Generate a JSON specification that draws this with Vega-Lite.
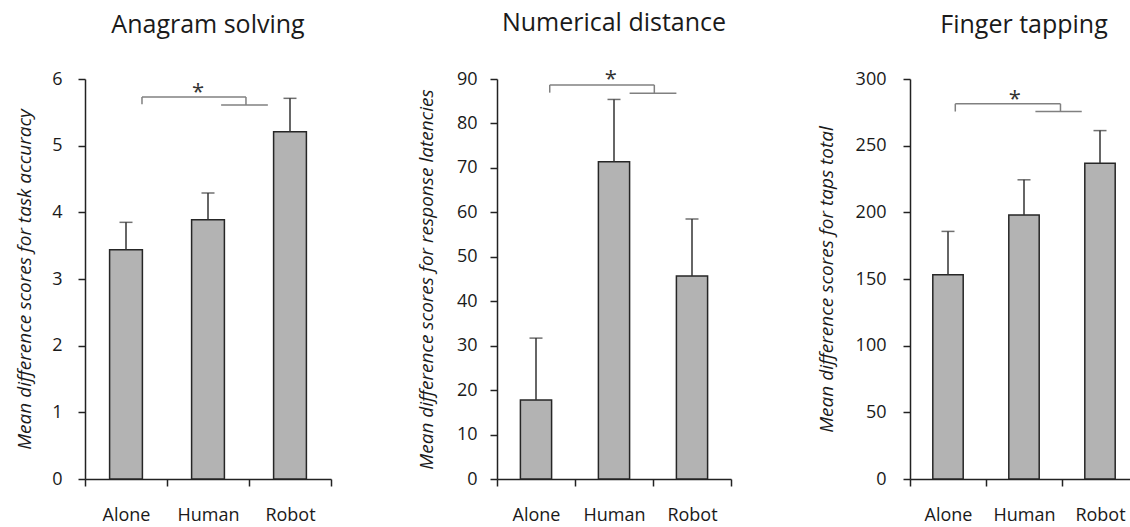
{
  "$schema": "https://vega.github.io/schema/vega-lite/v6.json",
  "padding": {"left": 15, "top": 11, "right": 0, "bottom": 0},
  "datasets": {
    "anagram": [
      {"condition": "Alone", "mean": 3.44, "upper": 3.85},
      {"condition": "Human", "mean": 3.89, "upper": 4.29},
      {"condition": "Robot", "mean": 5.21, "upper": 5.71}
    ],
    "numerical": [
      {"condition": "Alone", "mean": 17.8, "upper": 31.7},
      {"condition": "Human", "mean": 71.4, "upper": 85.4},
      {"condition": "Robot", "mean": 45.7, "upper": 58.5}
    ],
    "tapping": [
      {"condition": "Alone", "mean": 153.2, "upper": 185.7},
      {"condition": "Human", "mean": 198.0, "upper": 224.4},
      {"condition": "Robot", "mean": 236.9, "upper": 261.3}
    ],
    "anagram_bracket": [
      {"x": 0.695, "x2": 0.695, "y": 5.62, "y2": 5.73},
      {"x": 0.695, "x2": 1.963, "y": 5.73, "y2": 5.73},
      {"x": 1.963, "x2": 1.963, "y": 5.61, "y2": 5.73},
      {"x": 1.66, "x2": 2.23, "y": 5.61, "y2": 5.61}
    ],
    "numerical_bracket": [
      {"x": 0.676, "x2": 0.676, "y": 86.93, "y2": 88.66},
      {"x": 0.676, "x2": 2.017, "y": 88.66, "y2": 88.66},
      {"x": 2.017, "x2": 2.017, "y": 86.8, "y2": 88.66},
      {"x": 1.70, "x2": 2.30, "y": 86.8, "y2": 86.8}
    ],
    "tapping_bracket": [
      {"x": 0.596, "x2": 0.596, "y": 275.6, "y2": 281.4},
      {"x": 0.596, "x2": 1.98, "y": 281.4, "y2": 281.4},
      {"x": 1.98, "x2": 1.98, "y": 275.6, "y2": 281.4},
      {"x": 1.65, "x2": 2.26, "y": 275.6, "y2": 275.6}
    ],
    "anagram_star": [{"x": 1.38, "y": 5.70, "label": "*"}],
    "numerical_star": [{"x": 1.46, "y": 88.4, "label": "*"}],
    "tapping_star": [{"x": 1.38, "y": 279.6, "label": "*"}]
  },
  "hconcat": [
    {
      "title": {"text": "Anagram solving"},
      "width": 246,
      "height": 400,
      "layer": [
        {
          "data": {"name": "anagram"},
          "encoding": {
            "x": {"field": "condition", "type": "nominal", "sort": null,
                  "scale": {"paddingInner": 0, "paddingOuter": 0},
                  "axis": {"title": null, "labelAngle": 0, "tickBand": "extent", "labelPadding": 20}},
            "y": {"field": "mean", "type": "quantitative",
                  "scale": {"domain": [0, 6], "nice": false},
                  "axis": {"title": "Mean difference scores for task accuracy", "values": [0, 1, 2, 3, 4, 5, 6], "format": "d", "labelPadding": 16, "titlePadding": 17}}
          },
          "layer": [
            {"mark": {"type": "bar", "fill": "#b3b3b3", "stroke": "#262626", "strokeWidth": 1.5, "width": {"band": 0.4}}},
            {"mark": {"type": "rule", "color": "#333333", "strokeWidth": 1.5}, "encoding": {"y2": {"field": "upper"}}},
            {"mark": {"type": "tick", "color": "#333333", "thickness": 1.5, "size": 13}, "encoding": {"y": {"field": "upper", "type": "quantitative"}}}
          ]
        },
        {
          "layer": [
            {
              "data": {"name": "anagram_bracket"},
              "mark": {"type": "rule", "color": "#808080", "strokeWidth": 1.5},
              "encoding": {
                "x": {"field": "x", "type": "quantitative", "scale": {"domain": [0, 3], "nice": false, "zero": false}, "axis": null},
                "x2": {"field": "x2"},
                "y": {"field": "y", "type": "quantitative"},
                "y2": {"field": "y2"}
              }
            },
            {
              "data": {"name": "anagram_star"},
              "mark": {"type": "text", "fontSize": 22, "color": "#333333", "baseline": "alphabetic", "align": "center"},
              "encoding": {
                "x": {"field": "x", "type": "quantitative", "scale": {"domain": [0, 3], "nice": false, "zero": false}, "axis": null},
                "y": {"field": "y", "type": "quantitative"},
                "text": {"field": "label"}
              }
            }
          ]
        }
      ],
      "resolve": {"scale": {"x": "independent"}}
    },
    {
      "title": {"text": "Numerical distance"},
      "width": 234,
      "height": 400,
      "layer": [
        {
          "data": {"name": "numerical"},
          "encoding": {
            "x": {"field": "condition", "type": "nominal", "sort": null,
                  "scale": {"paddingInner": 0, "paddingOuter": 0},
                  "axis": {"title": null, "labelAngle": 0, "tickBand": "extent", "labelPadding": 20}},
            "y": {"field": "mean", "type": "quantitative",
                  "scale": {"domain": [0, 90], "nice": false},
                  "axis": {"title": "Mean difference scores for response latencies", "values": [0, 10, 20, 30, 40, 50, 60, 70, 80, 90], "format": "d", "labelPadding": 13, "titlePadding": 20}}
          },
          "layer": [
            {"mark": {"type": "bar", "fill": "#b3b3b3", "stroke": "#262626", "strokeWidth": 1.5, "width": {"band": 0.4}}},
            {"mark": {"type": "rule", "color": "#333333", "strokeWidth": 1.5}, "encoding": {"y2": {"field": "upper"}}},
            {"mark": {"type": "tick", "color": "#333333", "thickness": 1.5, "size": 13}, "encoding": {"y": {"field": "upper", "type": "quantitative"}}}
          ]
        },
        {
          "layer": [
            {
              "data": {"name": "numerical_bracket"},
              "mark": {"type": "rule", "color": "#808080", "strokeWidth": 1.5},
              "encoding": {
                "x": {"field": "x", "type": "quantitative", "scale": {"domain": [0, 3], "nice": false, "zero": false}, "axis": null},
                "x2": {"field": "x2"},
                "y": {"field": "y", "type": "quantitative"},
                "y2": {"field": "y2"}
              }
            },
            {
              "data": {"name": "numerical_star"},
              "mark": {"type": "text", "fontSize": 22, "color": "#333333", "baseline": "alphabetic", "align": "center"},
              "encoding": {
                "x": {"field": "x", "type": "quantitative", "scale": {"domain": [0, 3], "nice": false, "zero": false}, "axis": null},
                "y": {"field": "y", "type": "quantitative"},
                "text": {"field": "label"}
              }
            }
          ]
        }
      ],
      "resolve": {"scale": {"x": "independent"}}
    },
    {
      "title": {"text": "Finger tapping"},
      "width": 228,
      "height": 400,
      "layer": [
        {
          "data": {"name": "tapping"},
          "encoding": {
            "x": {"field": "condition", "type": "nominal", "sort": null,
                  "scale": {"paddingInner": 0, "paddingOuter": 0},
                  "axis": {"title": null, "labelAngle": 0, "tickBand": "extent", "labelPadding": 20}},
            "y": {"field": "mean", "type": "quantitative",
                  "scale": {"domain": [0, 300], "nice": false},
                  "axis": {"title": "Mean difference scores for taps total", "values": [0, 50, 100, 150, 200, 250, 300], "format": "d", "labelPadding": 17, "titlePadding": 19}}
          },
          "layer": [
            {"mark": {"type": "bar", "fill": "#b3b3b3", "stroke": "#262626", "strokeWidth": 1.5, "width": {"band": 0.4}}},
            {"mark": {"type": "rule", "color": "#333333", "strokeWidth": 1.5}, "encoding": {"y2": {"field": "upper"}}},
            {"mark": {"type": "tick", "color": "#333333", "thickness": 1.5, "size": 13}, "encoding": {"y": {"field": "upper", "type": "quantitative"}}}
          ]
        },
        {
          "layer": [
            {
              "data": {"name": "tapping_bracket"},
              "mark": {"type": "rule", "color": "#808080", "strokeWidth": 1.5},
              "encoding": {
                "x": {"field": "x", "type": "quantitative", "scale": {"domain": [0, 3], "nice": false, "zero": false}, "axis": null},
                "x2": {"field": "x2"},
                "y": {"field": "y", "type": "quantitative"},
                "y2": {"field": "y2"}
              }
            },
            {
              "data": {"name": "tapping_star"},
              "mark": {"type": "text", "fontSize": 22, "color": "#333333", "baseline": "alphabetic", "align": "center"},
              "encoding": {
                "x": {"field": "x", "type": "quantitative", "scale": {"domain": [0, 3], "nice": false, "zero": false}, "axis": null},
                "y": {"field": "y", "type": "quantitative"},
                "text": {"field": "label"}
              }
            }
          ]
        }
      ],
      "resolve": {"scale": {"x": "independent"}}
    }
  ],
  "spacing": 85,
  "config": {
    "view": {"stroke": null},
    "font": "Open Sans",
    "axis": {
      "grid": false,
      "domainColor": "#222222", "domainWidth": 1.5,
      "tickColor": "#222222", "tickWidth": 1.5, "tickSize": 7,
      "labelFont": "Open Sans", "labelFontSize": 18, "labelColor": "#1a1a1a",
      "titleFont": "Open Sans", "titleFontSize": 19, "titleFontStyle": "italic", "titleFontWeight": "normal", "titleColor": "#1a1a1a"
    },
    "title": {"font": "Open Sans", "fontSize": 25, "fontWeight": "normal", "color": "#1a1a1a", "anchor": "middle", "frame": "group", "offset": 32}
  }
}
